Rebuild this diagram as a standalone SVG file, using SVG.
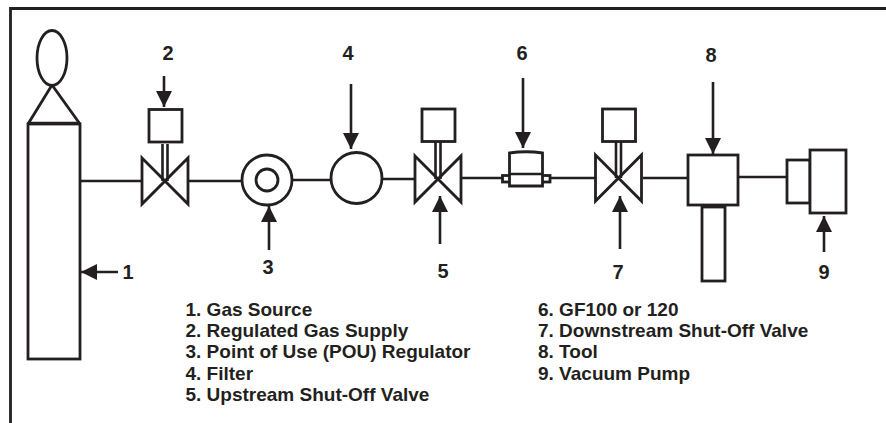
<svg xmlns="http://www.w3.org/2000/svg" width="886" height="423" viewBox="0 0 886 423">
<style>
.s{fill:#fff;stroke:#231f20;stroke-width:2.8}
.l{fill:none;stroke:#231f20;stroke-width:2.6}
.a{fill:none;stroke:#231f20;stroke-width:2.6;marker-end:url(#h)}
text{font-family:"Liberation Sans",Arial,sans-serif;font-weight:700;fill:#231f20}
.n{font-size:20px;text-anchor:middle}
.k{font-size:19px}
</style>
<defs><marker id="h" markerUnits="userSpaceOnUse" markerWidth="17" markerHeight="17" refX="16" refY="8" orient="auto"><path d="M0 0L16 8L0 16Z" fill="#231f20"/></marker>
<g id="v"><path class="s" d="M-23 -23L23 23V-23L-23 23Z"/><path class="l" d="M-2.500 0V-37M2.500 0V-37"/></g></defs>
<rect width="886" height="423" fill="#fff"/>
<path d="M886 8.500H10.500V423" fill="none" stroke="#231f20" stroke-width="2.800"/>
<g id="connectors">
<path class="l" d="M80 181H142M189 181H242M292 180H331M382 179H415M462 178H502M549 178H595M643 178H688M738 177H787"/>
<path class="a" d="M164 76V107"/><path class="a" d="M351 84V149"/><path class="a" d="M523 78V148"/><path class="a" d="M713 82V154"/>
<path class="a" d="M269 250V206"/><path class="a" d="M440 244V196"/><path class="a" d="M620 249V196"/><path class="a" d="M824 252V216"/><path class="a" d="M118 272H81"/>
</g>
<g id="node-1"><path class="s" d="M28 124L52 85L80 124"/><ellipse class="s" cx="52" cy="58" rx="15" ry="27.500"/><rect class="s" x="28" y="124" width="52" height="235"/><path class="l" d="M28 123H80"/><text class="n" x="128" y="279">1</text></g>
<g id="node-2"><use href="#v" x="165" y="181"/><rect class="s" x="149" y="109.500" width="33" height="32.500"/><text class="n" x="168" y="60">2</text></g>
<g id="node-3"><circle class="s" cx="267" cy="180" r="25"/><circle class="s" cx="267" cy="180" r="11"/><text class="n" x="268" y="274">3</text></g>
<g id="node-4"><circle class="s" cx="356.500" cy="178" r="25.500"/><text class="n" x="348" y="60">4</text></g>
<g id="node-5"><use href="#v" x="438" y="179"/><rect class="s" x="422" y="109" width="33" height="32.500"/><text class="n" x="443" y="278">5</text></g>
<g id="node-6"><rect class="s" x="502.500" y="175.500" width="47.500" height="6.500"/><path class="s" d="M509.500 186V153Q526 150.500 542.500 153V186Z"/><path class="l" d="M509.500 174H542.500"/><text class="n" x="522" y="60">6</text></g>
<g id="node-7"><use href="#v" x="618.500" y="178"/><rect class="s" x="602.500" y="109" width="33" height="32.500"/><text class="n" x="618" y="279">7</text></g>
<g id="node-8"><rect class="s" x="688" y="155" width="50" height="50"/><rect class="s" x="702" y="207" width="23" height="74"/><text class="n" x="711" y="62">8</text></g>
<g id="node-9"><rect class="s" x="787" y="160" width="23" height="43"/><rect class="s" x="810" y="150" width="36" height="63"/><text class="n" x="824" y="279">9</text></g>
<g id="legend">
<text class="k" x="185.500" y="316">1. Gas Source</text>
<text class="k" x="185.500" y="337">2. Regulated Gas Supply</text>
<text class="k" x="185.500" y="358">3. Point of Use (POU) Regulator</text>
<text class="k" x="185.500" y="380">4. Filter</text>
<text class="k" x="185.500" y="401">5. Upstream Shut-Off Valve</text>
<text class="k" x="538" y="316">6. GF100 or 120</text>
<text class="k" x="538" y="337">7. Downstream Shut-Off Valve</text>
<text class="k" x="538" y="358">8. Tool</text>
<text class="k" x="538" y="380">9. Vacuum Pump</text>
</g>
</svg>
